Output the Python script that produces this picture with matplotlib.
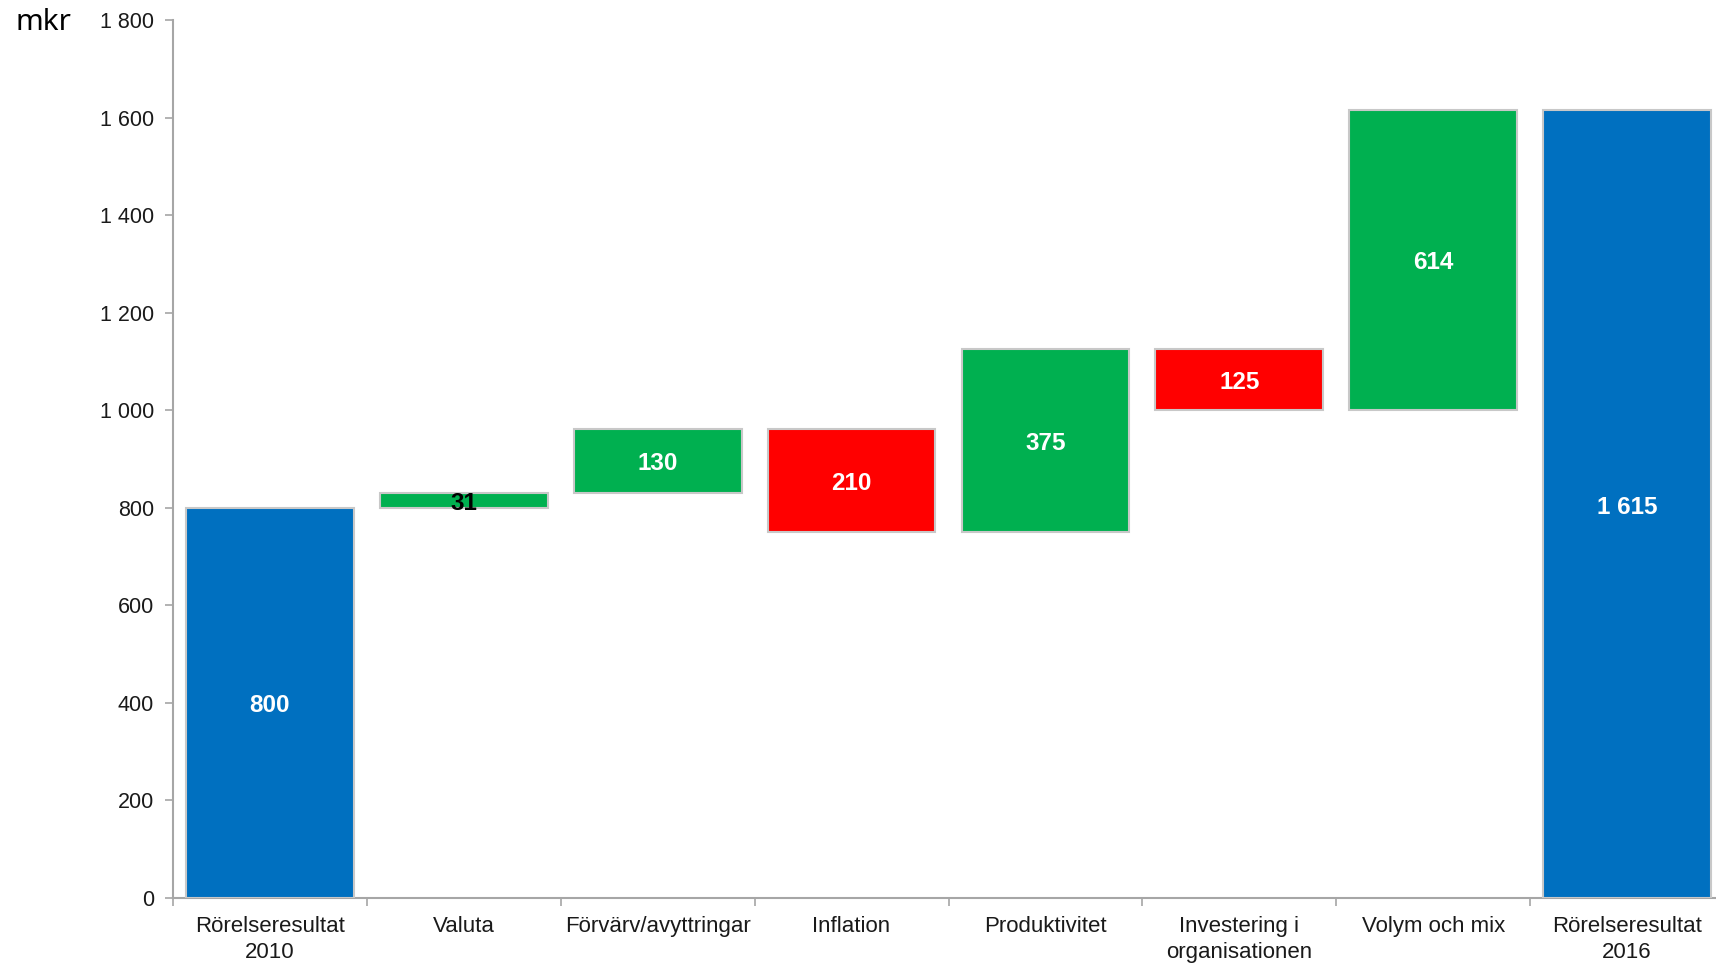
import matplotlib
matplotlib.use("Agg")
import matplotlib.pyplot as plt
from matplotlib.ticker import FuncFormatter, MultipleLocator, FixedLocator
import numpy as np

categories = ["Rörelseresultat\n2010", "Valuta", "Förvärv/avyttringar", "Inflation",
              "Produktivitet", "Investering i\norganisationen", "Volym och mix",
              "Rörelseresultat\n2016"]
changes = [800, 31, 130, -210, 375, -125, 614, 1615]
kinds = ["total", "delta", "delta", "delta", "delta", "delta", "delta", "total"]
labels = ["800", "31", "130", "210", "375", "125", "614", "1 615"]

BLUE = "#0070C0"
GREEN = "#00B050"
RED = "#FF0000"

plt.rcParams['font.family'] = ['Liberation Sans', 'DejaVu Sans']

fig = plt.figure(figsize=(17.16, 9.63), dpi=100)
ax = fig.add_axes([173/1716, 1 - 898/963, (1724 - 173)/1716, (898 - 20)/963])

x = np.arange(len(categories))
running = 0
bottoms, heights, colors = [], [], []
for v, k in zip(changes, kinds):
    if k == "total":
        bottoms.append(0); heights.append(v); colors.append(BLUE)
        running = v
    else:
        if v >= 0:
            bottoms.append(running); heights.append(v); colors.append(GREEN)
        else:
            bottoms.append(running + v); heights.append(-v); colors.append(RED)
        running += v

bars = ax.bar(x, heights, bottom=bottoms, width=0.865, color=colors,
              edgecolor="#C8C8C8", linewidth=1.5, zorder=3)

for xi, b, h, lab in zip(x, bottoms, heights, labels):
    col = "black" if lab == "31" else "white"
    ax.text(xi, b + h / 2 - 6, lab, ha="center", va="center", fontsize=17.5,
            fontweight="bold", color=col, zorder=4)

ax.set_xlim(-0.5, len(categories) - 0.5)
ax.set_ylim(0, 1800)
ax.yaxis.set_major_locator(MultipleLocator(200))
ax.yaxis.set_major_formatter(FuncFormatter(lambda v, p: f"{int(v):,}".replace(",", " ")))

ax.set_xticks(x)
ax.set_xticklabels(categories, fontsize=16, color="#1a1a1a", linespacing=1.3)
ax.xaxis.set_minor_locator(FixedLocator(np.arange(-0.5, len(categories) - 0.4, 1.0)))
ax.tick_params(axis="x", which="major", length=0, pad=13)
ax.tick_params(axis="x", which="minor", length=6, color="#A6A6A6", width=1.2)
ax.tick_params(axis="y", length=6, color="#A6A6A6", width=1.2, labelsize=15.5,
               labelcolor="#1a1a1a", pad=7.5)

for s in ["top", "right"]:
    ax.spines[s].set_visible(False)
for s in ["left", "bottom"]:
    ax.spines[s].set_color("#A6A6A6")
    ax.spines[s].set_linewidth(1.5)

fig.text(15/1716, 1 - 22/963, "mkr", fontsize=21.5, family=["Noto Sans", "DejaVu Sans"],
         ha="left", va="center", color="black")

fig.savefig("out.png", dpi=100)
